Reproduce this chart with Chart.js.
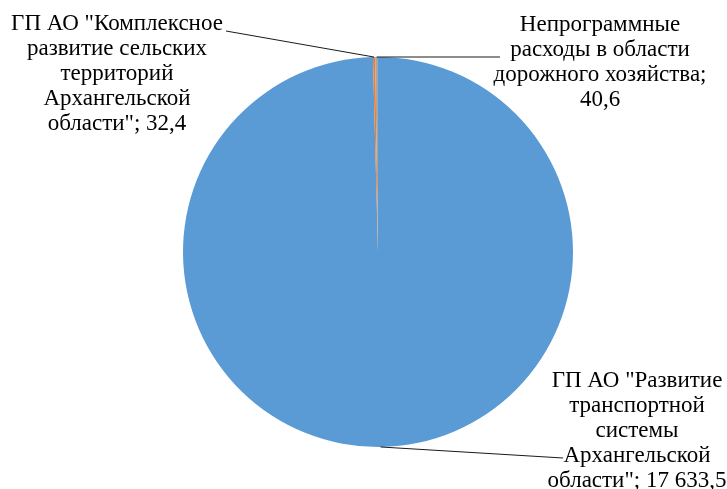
<!DOCTYPE html>
<html lang="en">

<head>
    <meta charset="UTF-8">
    <title>Расходы</title>
    <style>
        body {
            margin: 0;
            background: #fff;
        }
    </style>
</head>

<body>
    <canvas id="myCanvas" width="727" height="489"></canvas>
    <script src="https://cdn.jsdelivr.net/npm/chart.js@4/dist/chart.umd.min.js"></script>
    <script>
        // data
        const categories = [
            'ГП АО "Развитие транспортной системы Архангельской области"',
            'ГП АО "Комплексное развитие сельских территорий Архангельской области"',
            'Непрограммные расходы в области дорожного хозяйства'
        ];
        const values = [17633.5, 32.4, 40.6];
        const valueLabels = ['17 633,5', '32,4', '40,6'];

        // label lines as they are wrapped on the picture
        const labelLines = [
            ['ГП АО "Развитие', 'транспортной', 'системы', 'Архангельской', 'области"; ' + valueLabels[0]],
            ['ГП АО "Комплексное', 'развитие сельских', 'территорий', 'Архангельской', 'области"; ' + valueLabels[1]],
            ['Непрограммные', 'расходы в области', 'дорожного хозяйства;', valueLabels[2]]
        ];

        // where each label sits (baseline of first line) and where its leader line ends
        const labelPos = [
            { x: 637, y: 387, lineEnd: [563, 458] },
            { x: 117, y: 30, lineEnd: [226, 31] },
            { x: 600, y: 31, lineEnd: [500, 57] }
        ];

        const labelsPlugin = {
            id: 'pieLabels',
            afterDraw(chart) {
                const ctx = chart.ctx;
                const meta = chart.getDatasetMeta(0);

                // leader lines
                ctx.save();
                ctx.strokeStyle = '#1a1a1a';
                ctx.lineWidth = 1;
                meta.data.forEach((arc, i) => {
                    const p = arc.getProps(['x', 'y', 'startAngle', 'endAngle', 'outerRadius'], true);
                    const mid = (p.startAngle + p.endAngle) / 2;
                    ctx.beginPath();
                    ctx.moveTo(p.x + Math.cos(mid) * p.outerRadius, p.y + Math.sin(mid) * p.outerRadius);
                    ctx.lineTo(labelPos[i].lineEnd[0], labelPos[i].lineEnd[1]);
                    ctx.stroke();
                });
                ctx.restore();

                // texts
                ctx.save();
                ctx.fillStyle = '#000';
                ctx.font = '23px "Liberation Serif"';
                ctx.textAlign = 'center';
                labelLines.forEach((lines, i) => {
                    lines.forEach((line, j) => {
                        ctx.fillText(line, labelPos[i].x, labelPos[i].y + j * 25);
                    });
                });
                ctx.restore();
            }
        };

        new Chart(document.getElementById('myCanvas'), {
            type: 'pie',
            data: {
                labels: categories,
                datasets: [{
                    data: values,
                    backgroundColor: ['#5b9bd5', '#ed7d31', '#a5a5a5'],
                    borderWidth: 0
                }]
            },
            options: {
                responsive: false,
                animation: false,
                layout: {
                    padding: { left: 29, right: 0, top: 57, bottom: 42 }
                },
                plugins: {
                    legend: { display: false },
                    tooltip: { enabled: false }
                }
            },
            plugins: [labelsPlugin]
        });
    </script>
</body>

</html>
